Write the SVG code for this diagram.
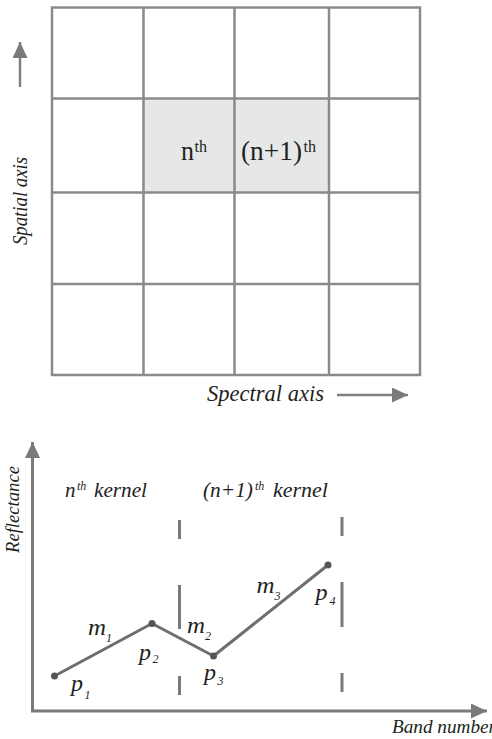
<svg xmlns="http://www.w3.org/2000/svg" width="492" height="739" viewBox="0 0 492 739">
<style>
.grid{fill:none;stroke:#8a8a8a;stroke-width:2.5}
.shade{fill:#e6e7e8;stroke:none}
.t{font-family:"Liberation Serif","Times New Roman",serif;fill:#231f20}
.i{font-style:italic}
.ax{stroke:#7a7a7a;stroke-width:3;fill:none}
.ar{stroke:#808080;stroke-width:2.5;fill:none}
.dash{stroke:#7a7a7a;stroke-width:3}
.curve{stroke:#6e6e6e;stroke-width:3;fill:none;stroke-linejoin:round}
.dot{fill:#555}
</style>
<defs>
<marker id="ah" markerUnits="userSpaceOnUse" markerWidth="17" markerHeight="16" refX="16" refY="7.5" orient="auto">
<path d="M0,0 L16,7.5 L0,15 z" fill="#7a7a7a"/>
</marker>
</defs>
<rect width="492" height="739" fill="#fff"/>
<g id="shaded-cells">
<rect class="shade" x="143.5" y="98.5" width="91" height="94"/>
<rect class="shade" x="234.5" y="98.5" width="94.5" height="94"/>
</g>
<g id="grid">
<rect class="grid" x="52" y="7.5" width="368" height="367.5"/>
<line class="grid" x1="143.5" y1="7.5" x2="143.5" y2="375"/>
<line class="grid" x1="234.5" y1="7.5" x2="234.5" y2="375"/>
<line class="grid" x1="329" y1="7.5" x2="329" y2="375"/>
<line class="grid" x1="52" y1="98.5" x2="420" y2="98.5"/>
<line class="grid" x1="52" y1="192.5" x2="420" y2="192.5"/>
<line class="grid" x1="52" y1="284" x2="420" y2="284"/>
</g>
<g id="cell-n">
<text class="t" x="181" y="160" font-size="28" textLength="13" lengthAdjust="spacingAndGlyphs">n</text>
<text class="t" x="194.5" y="152" font-size="16">th</text>
</g>
<g id="cell-n1">
<text class="t" x="241" y="160" font-size="28" textLength="61" lengthAdjust="spacingAndGlyphs">(n+1)</text>
<text class="t" x="303.5" y="152" font-size="16">th</text>
</g>
<g id="spatial-label">
<text class="t i" transform="translate(27,245) rotate(-90)" font-size="20" textLength="88" lengthAdjust="spacingAndGlyphs">Spatial axis</text>
</g>
<g id="spectral-label">
<text class="t i" x="207" y="401" font-size="24" textLength="117" lengthAdjust="spacingAndGlyphs">Spectral axis</text>
</g>
<g id="chart-labels">
<text class="t i" transform="translate(19,553) rotate(-90)" font-size="18" textLength="87" lengthAdjust="spacingAndGlyphs">Reflectance</text>
<text class="t i" x="392" y="733" font-size="18" textLength="104" lengthAdjust="spacingAndGlyphs">Band number</text>
</g>
<g id="kernel-n">
<text class="t i" x="65" y="497" font-size="21">n</text>
<text class="t i" x="77" y="490" font-size="12">th</text>
<text class="t i" x="94" y="497" font-size="21" textLength="53" lengthAdjust="spacingAndGlyphs">kernel</text>
</g>
<g id="kernel-n1">
<text class="t i" x="203" y="497" font-size="21" textLength="50" lengthAdjust="spacingAndGlyphs">(n+1)</text>
<text class="t i" x="255" y="490" font-size="12">th</text>
<text class="t i" x="273" y="497" font-size="21" textLength="55" lengthAdjust="spacingAndGlyphs">kernel</text>
</g>
<g id="point-labels">
<text class="t i" x="71" y="691" font-size="24">p</text><text class="t i" x="84.5" y="699" font-size="12">1</text>
<text class="t i" x="139" y="660" font-size="24">p</text><text class="t i" x="152.5" y="663" font-size="12">2</text>
<text class="t i" x="204" y="680" font-size="24">p</text><text class="t i" x="217.5" y="685" font-size="12">3</text>
<text class="t i" x="315.5" y="600" font-size="24">p</text><text class="t i" x="329.5" y="605" font-size="12">4</text>
<text class="t i" x="88" y="635" font-size="24" textLength="18" lengthAdjust="spacingAndGlyphs">m</text><text class="t i" x="106" y="642" font-size="12">1</text>
<text class="t i" x="187" y="633" font-size="24" textLength="18" lengthAdjust="spacingAndGlyphs">m</text><text class="t i" x="205" y="640" font-size="12">2</text>
<text class="t i" x="256.5" y="593" font-size="24" textLength="18" lengthAdjust="spacingAndGlyphs">m</text><text class="t i" x="274.5" y="600" font-size="12">3</text>
</g>
<g id="connectors">
<line class="ar" x1="20" y1="87" x2="20" y2="42" marker-end="url(#ah)"/>
<line class="ar" x1="337" y1="395" x2="408" y2="395" marker-end="url(#ah)"/>
<line class="ax" x1="32.5" y1="712" x2="32.5" y2="442" marker-end="url(#ah)"/>
<line class="ax" x1="31" y1="711" x2="487" y2="711" marker-end="url(#ah)"/>
<line class="dash" x1="179.5" y1="520" x2="179.5" y2="539"/>
<line class="dash" x1="179.5" y1="585" x2="179.5" y2="629"/>
<line class="dash" x1="179.5" y1="676" x2="179.5" y2="695"/>
<line class="dash" x1="342" y1="517" x2="342" y2="536"/>
<line class="dash" x1="342" y1="582" x2="342" y2="627"/>
<line class="dash" x1="342" y1="673" x2="342" y2="692"/>
<polyline class="curve" points="54.5,676 152,623.5 213.5,656 328,565"/>
<circle class="dot" cx="54.5" cy="676" r="3.5"/>
<circle class="dot" cx="152" cy="623.5" r="3.5"/>
<circle class="dot" cx="213.5" cy="656" r="3.5"/>
<circle class="dot" cx="328" cy="565" r="3.5"/>
</g>
</svg>
